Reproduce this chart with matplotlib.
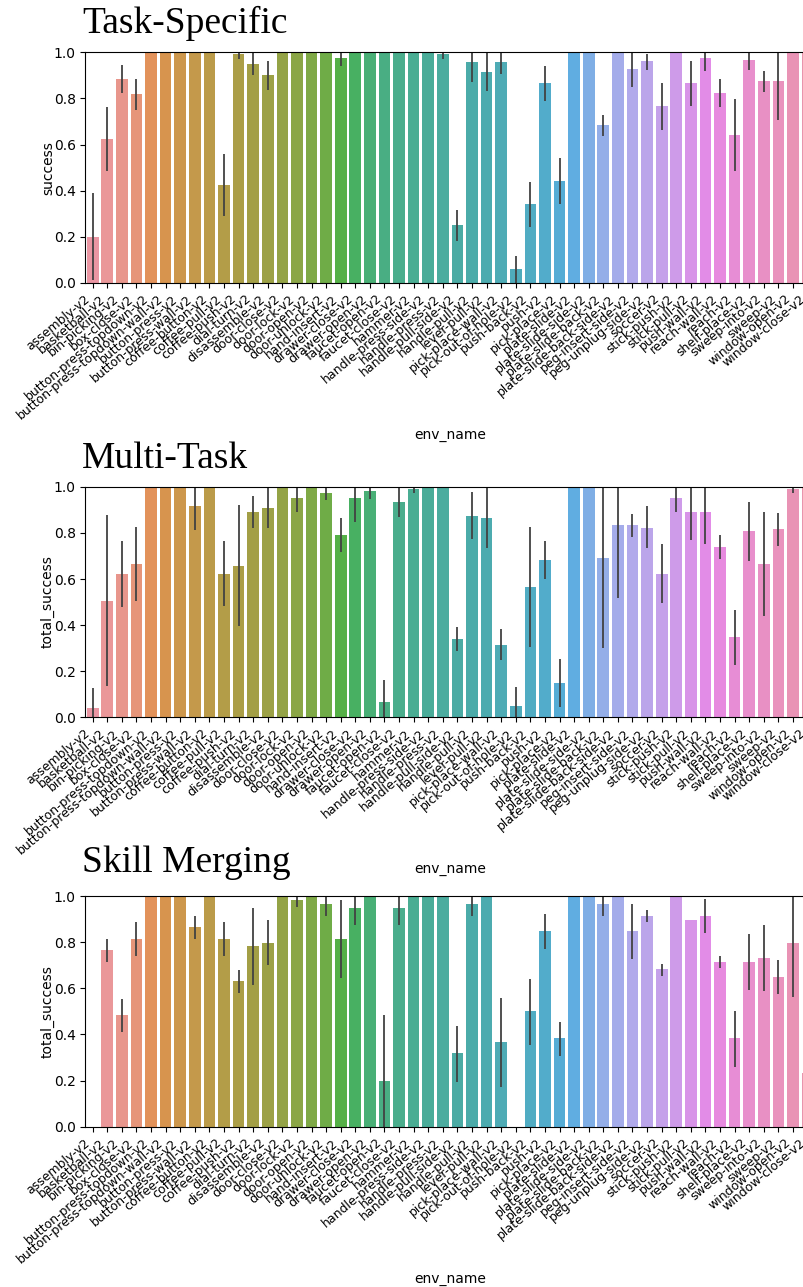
"""Bar charts of per-task success on Meta-World for three training setups."""

import matplotlib.pyplot as plt
import seaborn as sns

env_names = [
    'assembly-v2', 'basketball-v2', 'bin-picking-v2', 'box-close-v2',
    'button-press-topdown-v2', 'button-press-topdown-wall-v2', 'button-press-v2',
    'button-press-wall-v2', 'coffee-button-v2', 'coffee-pull-v2', 'coffee-push-v2',
    'dial-turn-v2', 'disassemble-v2', 'door-close-v2', 'door-lock-v2', 'door-open-v2',
    'door-unlock-v2', 'hand-insert-v2', 'drawer-close-v2', 'drawer-open-v2',
    'faucet-open-v2', 'faucet-close-v2', 'hammer-v2', 'handle-press-side-v2',
    'handle-press-v2', 'handle-pull-side-v2', 'handle-pull-v2', 'lever-pull-v2',
    'pick-place-wall-v2', 'pick-out-of-hole-v2', 'push-back-v2', 'push-v2',
    'pick-place-v2', 'plate-slide-v2', 'plate-slide-side-v2', 'plate-slide-back-v2',
    'plate-slide-back-side-v2', 'peg-insert-side-v2', 'peg-unplug-side-v2', 'soccer-v2',
    'stick-push-v2', 'stick-pull-v2', 'push-wall-v2', 'reach-wall-v2', 'reach-v2',
    'shelf-place-v2', 'sweep-into-v2', 'sweep-v2', 'window-open-v2', 'window-close-v2',
]

# Task-Specific
ts_mean = [0.20, 0.625, 0.884, 0.818, 1, 1, 1, 1, 1, 0.425,
           0.993, 0.951, 0.90, 1, 1, 1, 1, 0.975, 1, 1,
           1, 1, 1, 1, 0.993, 0.25, 0.959, 0.917, 0.959, 0.058,
           0.342, 0.868, 0.44, 1, 1, 0.684, 1, 0.926, 0.961, 0.767,
           1, 0.868, 0.975, 0.823, 0.641, 0.967, 0.876, 0.876, 1, 1]
ts_low = [0.01, 0.486, 0.822, 0.75, 1, 1, 1, 1, 1, 0.291,
          0.973, 0.903, 0.836, 1, 1, 1, 1, 0.94, 1, 1,
          1, 1, 1, 1, 0.973, 0.182, 0.871, 0.834, 0.906, 0.0,
          0.242, 0.79, 0.343, 1, 1, 0.637, 1, 0.848, 0.923, 0.664,
          1, 0.767, 0.92, 0.764, 0.486, 0.923, 0.829, 0.706, 1, 1]
ts_high = [0.39, 0.761, 0.944, 0.883, 1, 1, 1, 1, 1, 0.557,
           1.0, 1.0, 0.964, 1, 1, 1, 1, 1.0, 1, 1,
           1, 1, 1, 1, 1.0, 0.317, 1.0, 1.0, 1.0, 0.117,
           0.438, 0.941, 0.54, 1, 1, 0.728, 1, 1.0, 0.993, 0.868,
           1, 0.964, 1.0, 0.885, 0.796, 1.0, 0.919, 1.0, 1, 1]

# Multi-Task
mt_mean = [0.042, 0.506, 0.623, 0.665, 1, 1, 1, 0.916, 1, 0.623,
           0.658, 0.89, 0.909, 1, 0.951, 1, 0.975, 0.791, 0.951, 0.983,
           0.065, 0.935, 0.991, 1, 1, 0.341, 0.874, 0.867, 0.314, 0.048,
           0.565, 0.683, 0.148, 1, 1, 0.691, 0.833, 0.833, 0.823, 0.623,
           0.951, 0.891, 0.891, 0.741, 0.348, 0.809, 0.665, 0.817, 0.991, 1]
mt_low = [0.0, 0.136, 0.48, 0.504, 1, 1, 1, 0.814, 1, 0.481,
          0.394, 0.82, 0.82, 1, 0.89, 1, 0.942, 0.716, 0.846, 0.948,
          0.0, 0.87, 0.974, 1, 1, 0.287, 0.772, 0.736, 0.249, 0.0,
          0.306, 0.6, 0.043, 1, 1, 0.299, 0.516, 0.781, 0.733, 0.494,
          0.89, 0.768, 0.754, 0.687, 0.226, 0.677, 0.438, 0.745, 0.974, 1]
mt_high = [0.126, 0.878, 0.767, 0.826, 1, 1, 1, 1.0, 1, 0.764,
           0.92, 0.961, 0.993, 1, 1.0, 1, 1.0, 0.867, 1.0, 1.0,
           0.162, 1.0, 1.0, 1, 1, 0.391, 0.978, 1.0, 0.383, 0.13,
           0.826, 0.764, 0.252, 1, 1, 1.0, 1.0, 0.883, 0.916, 0.752,
           1.0, 1.0, 1.0, 0.793, 0.467, 0.936, 0.891, 0.887, 1.0, 1]

# Skill Merging
sm_mean = [0, 0.766, 0.483, 0.816, 1, 1, 1, 0.867, 1, 0.816,
           0.633, 0.782, 0.799, 1, 0.983, 1, 0.967, 0.816, 0.949, 1,
           0.199, 0.949, 1, 1, 1, 0.318, 0.967, 1, 0.367, 0,
           0.5, 0.848, 0.383, 1, 1, 0.967, 1, 0.848, 0.915, 0.684,
           1, 0.899, 0.915, 0.715, 0.383, 0.715, 0.731, 0.649, 0.799, 0.231]
sm_low = [0, 0.715, 0.409, 0.741, 1, 1, 1, 0.816, 1, 0.741,
          0.582, 0.614, 0.701, 1, 0.955, 1, 0.916, 0.647, 0.876, 1,
          0.0, 0.876, 1, 1, 1, 0.195, 0.916, 1, 0.173, 0,
          0.354, 0.773, 0.308, 1, 1, 0.916, 1, 0.727, 0.889, 0.655,
          1, 0.899, 0.841, 0.689, 0.26, 0.594, 0.588, 0.574, 0.561, 0.231]
sm_high = [0, 0.816, 0.555, 0.89, 1, 1, 1, 0.916, 1, 0.89,
           0.682, 0.949, 0.896, 1, 1.0, 1, 1.0, 0.983, 1.0, 1,
           0.484, 1.0, 1, 1, 1, 0.436, 1.0, 1, 0.558, 0,
           0.642, 0.922, 0.455, 1, 1, 1.0, 1, 0.968, 0.942, 0.708,
           1, 0.899, 0.986, 0.74, 0.501, 0.838, 0.877, 0.723, 1.0, 0.231]

# seaborn's old categorical default for many levels: light husl, desaturated
palette = [sns.desaturate(c, 0.75) for c in sns.husl_palette(len(env_names), l=.7)]

fig = plt.figure(figsize=(8.04, 12.87), dpi=100)

# (title, ylabel, mean, low, high, axes bottom, title baseline)
panels = [
    ('Task-Specific', 'success', ts_mean, ts_low, ts_high, 0.7803, 0.9744),
    ('Multi-Task', 'total_success', mt_mean, mt_low, mt_high, 0.4427, 0.6364),
    ('Skill Merging', 'total_success', sm_mean, sm_low, sm_high, 0.1246, 0.3225),
]

# the original was cropped on the right, so the axes run past the figure edge
for title, ylabel, mean, low, high, bottom, title_y in panels:
    ax = fig.add_axes([0.1062, bottom, 0.9073, 0.179])
    x = range(len(env_names))
    ax.bar(x, mean, width=0.8, color=palette)
    for i in x:
        if high[i] > low[i]:
            ax.plot([i, i], [low[i], high[i]], color='.26', lw=1.3, solid_capstyle='butt')
    ax.set_xlim(-0.5, len(env_names) - 0.5)
    ax.set_ylim(0, 1.0)
    ax.set_xticks(list(x))
    ax.set_xticklabels(env_names, rotation=40, ha='right', fontsize=9)
    ax.set_xlabel('env_name')
    ax.set_ylabel(ylabel, labelpad=-1)
    fig.text(0.102, title_y, title, fontsize=27, family='Liberation Serif', va='baseline')

plt.savefig('out.png', dpi=100)
